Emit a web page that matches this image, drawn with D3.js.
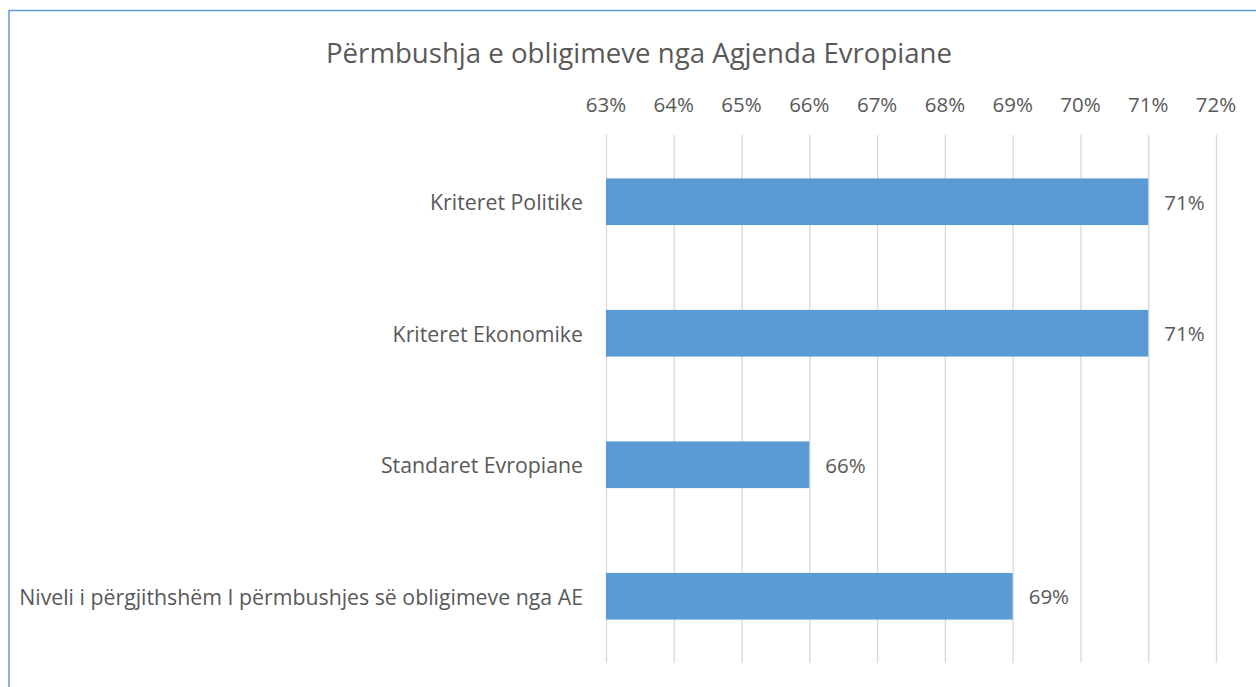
<!DOCTYPE html>
<head>
  <meta charset="utf-8">
  <script src="https://d3js.org/d3.v7.min.js"></script>
  <style>
    body { margin: 0; background: #fff; }
    text { font-family: "Open Sans", sans-serif; fill: #595959; }
    .grid line { stroke: #d9d9d9; stroke-width: 1.3; }
    .grid path { display: none; }
    .bar { fill: #5b9bd5; }
  </style>
</head>
<body>
<script>
  var categories = ["Kriteret Politike", "Kriteret Ekonomike", "Standaret Evropiane",
                    "Niveli i përgjithshëm I përmbushjes së obligimeve nga AE"];
  var values = [0.71, 0.71, 0.66, 0.69];
  var ticks = [0.63, 0.64, 0.65, 0.66, 0.67, 0.68, 0.69, 0.70, 0.71, 0.72];
  var title = "Përmbushja e obligimeve nga Agjenda Evropiane";

  var W = 1256, H = 687;
  var margin = { top: 135, right: 40, bottom: 24, left: 606 };
  var width = 1216 - margin.left;
  var height = 663 - margin.top;

  var svg = d3.select("body").append("svg")
      .attr("width", W)
      .attr("height", H);

  // chart frame (cut off on right and bottom in the original)
  svg.append("path")
      .attr("d", "M9,687 V10.5 H1256")
      .attr("fill", "none")
      .attr("stroke", "#5b9bd5")
      .attr("stroke-width", 1.5);

  svg.append("text")
      .attr("x", 639)
      .attr("y", 52)
      .attr("text-anchor", "middle")
      .attr("dominant-baseline", "central")
      .style("font-size", "27.6px")
      .text(title);

  var g = svg.append("g")
      .attr("transform", "translate(" + margin.left + "," + margin.top + ")");

  var x = d3.scaleLinear()
      .domain([0.63, 0.72])
      .range([0, width]);

  var y = d3.scaleBand()
      .domain(categories)
      .range([0, height])
      .paddingInner(0.645)
      .paddingOuter(0.33);

  g.append("g")
      .attr("class", "grid")
      .call(d3.axisTop(x).tickValues(ticks).tickSize(-height).tickFormat(""));

  g.selectAll(".tick-label")
      .data(ticks)
    .enter().append("text")
      .attr("class", "tick-label")
      .attr("x", function(d) { return x(d); })
      .attr("y", -31)
      .attr("text-anchor", "middle")
      .attr("dominant-baseline", "central")
      .style("font-size", "20.5px")
      .text(function(d) { return Math.round(d * 100) + "%"; });

  g.selectAll(".bar")
      .data(values)
    .enter().append("rect")
      .attr("class", "bar")
      .attr("x", 0)
      .attr("y", function(d, i) { return y(categories[i]); })
      .attr("height", y.bandwidth())
      .attr("width", function(d) { return x(d); });

  g.selectAll(".cat")
      .data(categories)
    .enter().append("text")
      .attr("class", "cat")
      .attr("x", -23)
      .attr("y", function(d) { return y(d) + y.bandwidth() / 2; })
      .attr("text-anchor", "end")
      .attr("dominant-baseline", "central")
      .style("font-size", "21.3px")
      .text(function(d) { return d; });

  g.selectAll(".val")
      .data(values)
    .enter().append("text")
      .attr("class", "val")
      .attr("x", function(d) { return x(d) + 16; })
      .attr("y", function(d, i) { return y(categories[i]) + y.bandwidth() / 2; })
      .attr("dominant-baseline", "central")
      .style("font-size", "20.5px")
      .text(function(d) { return Math.round(d * 100) + "%"; });
</script>
</body>
